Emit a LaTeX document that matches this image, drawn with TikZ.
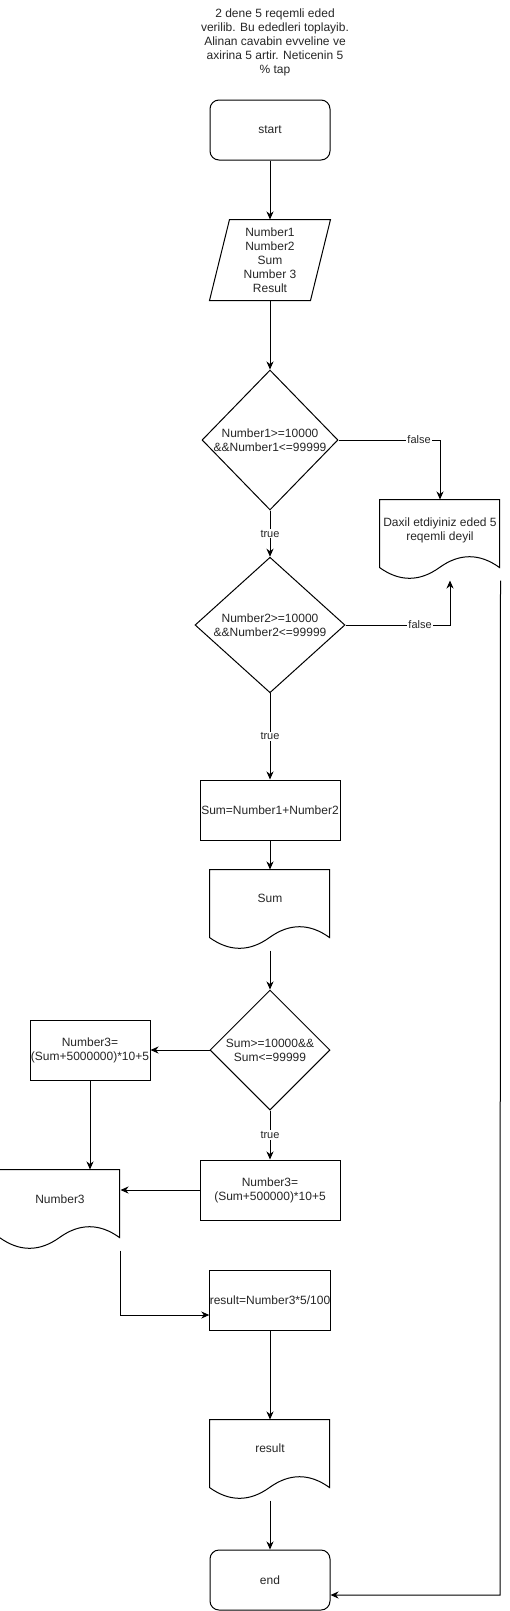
\documentclass[tikz,border=0pt]{standalone}
\usepackage{fontspec}
\setmainfont{Liberation Sans}
\usetikzlibrary{arrows.meta,shapes.geometric,calc}
\newcommand\docwave[1]{\draw[shift={(#1.north west)}] (0,0) -- (120,0) -- (120,68) .. controls (100,53.6) and (80,53.6) .. (60,68) .. controls (40,82.4) and (20,82.4) .. (0,68) -- cycle;}
\begin{document}
\begin{tikzpicture}[x=1pt,y=-1pt, line width=1pt, font=\fontsize{12}{14}\selectfont, text=black!85,
  >={Stealth[length=8pt,width=7pt,inset=2.5pt]},
  term/.style={draw, rounded corners=9pt, minimum width=120pt, minimum height=60pt, inner sep=0},
  proc/.style={draw, minimum height=60pt, inner sep=0, align=center},
  dec/.style={draw, diamond, aspect=1, inner sep=0, align=center},
  docbox/.style={minimum width=120pt, minimum height=80pt, inner sep=0},
  lbl/.style={fill=white, font=\fontsize{11}{13}\selectfont, inner sep=1pt}]
\useasboundingbox (0,0) rectangle (509,1611);

\node[align=center] (title) at (275,42) {2 dene 5 reqemli eded\\verilib. Bu ededleri toplayib.\\Alinan cavabin evveline ve\\axirina 5 artir. Neticenin 5\\\% tap};

\node[term] (start) at (270,130) {start};

\node[minimum width=120pt, minimum height=80pt, inner sep=0, align=center] (para) at (270,260) {Number1\\Number2\\Sum\\Number 3\\Result};
\draw ([xshift=20pt]para.north west) -- (para.north east) -- ([xshift=-20pt]para.south east) -- (para.south west) -- cycle;

\node[dec, minimum width=136pt, minimum height=140pt] (d1) at (270,440) {Number1>=10000\\\&\&Number1<=99999};

\node[docbox] (doc1) at (440,540) {};
\docwave{doc1}
\node[align=center] (doc1t) at (440,530) {Daxil etdiyiniz eded 5\\reqemli deyil};

\node[dec, minimum width=150pt, minimum height=130pt] (d2) at (270,625) {Number2>=10000\\\&\&Number2<=99999};

\node[proc, minimum width=140pt] (sum1) at (270,810) {Sum=Number1+Number2};

\node[docbox] (sumdoc) at (270,910) {};
\docwave{sumdoc}
\node (sumdoct) at (270,898) {Sum};

\node[dec, minimum width=120pt, minimum height=120pt] (d3) at (270,1050) {Sum>=10000\&\&\\Sum<=99999};

\node[proc, minimum width=120pt] (boxL) at (90,1050) {Number3=\\(Sum+5000000)*10+5};
\node[proc, minimum width=140pt] (boxR) at (270,1190) {Number3=\\(Sum+500000)*10+5};

\node[docbox] (n3doc) at (60,1210) {};
\docwave{n3doc}
\node (n3doct) at (60,1199) {Number3};

\node[proc, minimum width=120pt] (resbox) at (270,1300) {result=Number3*5/100};

\node[docbox] (resdoc) at (270,1460) {};
\docwave{resdoc}
\node (resdoct) at (270,1448) {result};

\node[term] (endn) at (270,1580) {end};
\coordinate (c1) at (500,1595);

% connectors
\draw[->] (start) -- (para);
\draw[->] (para) -- (d1);
\draw[->] (d1.east) -| node[lbl,pos=0.397]{false} (doc1.north);
\draw[->] (d1) -- node[lbl]{true} (d2);
\draw[->] (d2.east) -| node[lbl,pos=0.357]{false} ([xshift=10pt]doc1.south);
\draw[->] (d2) -- node[lbl]{true} (sum1);
\draw[->] (sum1) -- (sumdoc);
\draw[->] (sumdoc) -- (d3);
\draw[->] (d3.west) -- (boxL.east);
\draw[->] (d3) -- node[lbl]{true} (boxR);
\draw[->] (boxL) -- (boxL.south |- n3doc.north);
\draw[->] (boxR.west) -- (boxR.west -| n3doc.east);
\draw[->] (n3doc.south east) |- ([yshift=-15pt]resbox.west);
\draw[->] (resbox) -- (resdoc);
\draw[->] (resdoc) -- (endn);
\draw[->] (doc1.south east) -- (c1) -- ([yshift=-15pt]endn.east);
\end{tikzpicture}
\end{document}
